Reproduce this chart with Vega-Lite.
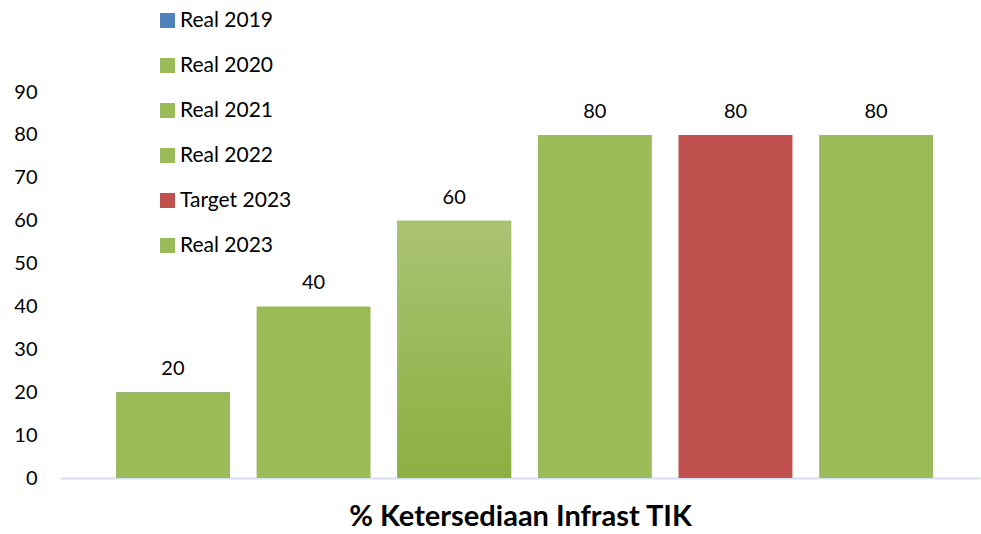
{
  "$schema": "https://vega.github.io/schema/vega-lite/v6.json",
  "width": 920,
  "height": 386,
  "autosize": {"type": "none"},
  "padding": {"left": 60, "top": 92, "right": 1, "bottom": 56},
  "background": "white",
  "config": {"view": {"stroke": null}, "font": "Lato"},
  "data": {
    "values": [
      {"series": "Real 2019", "value": 20},
      {"series": "Real 2020", "value": 40},
      {"series": "Real 2021", "value": 60},
      {"series": "Real 2022", "value": 80},
      {"series": "Target 2023", "value": 80},
      {"series": "Real 2023", "value": 80}
    ]
  },
  "encoding": {
    "x": {
      "field": "series",
      "type": "nominal",
      "sort": null,
      "scale": {"paddingInner": 0.19, "paddingOuter": 0.366, "align": 0.544},
      "axis": {
        "title": "% Ketersediaan Infrast TIK",
        "titleFont": "Lato",
        "titleFontSize": 29,
        "titleFontWeight": "bold",
        "titleColor": "#000000",
        "titlePadding": 24,
        "labels": false,
        "ticks": false,
        "domainColor": "#D6E0EE",
        "domainWidth": 2,
        "grid": false
      }
    },
    "y": {
      "field": "value",
      "type": "quantitative",
      "scale": {"domain": [0, 90], "nice": false},
      "axis": {
        "title": null,
        "values": [0, 10, 20, 30, 40, 50, 60, 70, 80, 90],
        "grid": false,
        "domain": false,
        "ticks": false,
        "labelPadding": 23,
        "labelFont": "Lato",
        "labelFontSize": 20,
        "labelColor": "#000000"
      }
    }
  },
  "layer": [
    {
      "mark": {"type": "bar"},
      "encoding": {
        "color": {
          "field": "series",
          "type": "nominal",
          "sort": null,
          "scale": {
            "domain": ["Real 2019", "Real 2020", "Real 2021", "Real 2022", "Target 2023", "Real 2023"],
            "range": ["#4F81BD", "#9BBB59", "#9BBB59", "#9BBB59", "#C0504D", "#9BBB59"]
          },
          "legend": {
            "title": null,
            "orient": "none",
            "legendX": 97,
            "legendY": -82,
            "padding": 0,
            "symbolType": "square",
            "symbolSize": 225,
            "symbolStrokeWidth": 0,
            "labelFont": "Lato",
            "labelFontSize": 21,
            "labelColor": "#000000",
            "labelOffset": 2,
            "rowPadding": 23
          }
        }
      }
    },
    {
      "transform": [{"filter": "datum.series === 'Real 2019'"}],
      "mark": {"type": "bar", "color": "#9BBB59"},
      "encoding": {}
    },
    {
      "transform": [{"filter": "datum.series === 'Real 2021'"}],
      "mark": {
        "type": "bar",
        "color": {
          "gradient": "linear",
          "x1": 0, "y1": 0, "x2": 0, "y2": 1,
          "stops": [
            {"offset": 0, "color": "#AAC373"},
            {"offset": 1, "color": "#8CAF41"}
          ]
        }
      },
      "encoding": {}
    },
    {
      "mark": {"type": "text", "baseline": "alphabetic", "dy": -17, "font": "Lato", "fontSize": 20, "color": "#000000"},
      "encoding": {"text": {"field": "value", "type": "quantitative"}}
    }
  ]
}
